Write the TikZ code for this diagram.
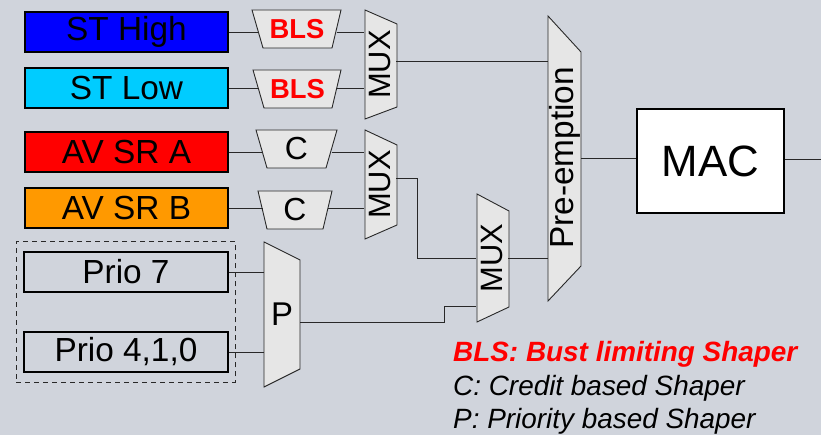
\documentclass[tikz,border=0pt]{standalone}
\usepackage{fontspec}
\usepackage{graphicx}
\setmainfont{Liberation Sans}
\usetikzlibrary{fit}

\definecolor{bggray}{RGB}{208,212,220}
\definecolor{stblue}{RGB}{0,0,255}
\definecolor{stcyan}{RGB}{0,204,255}
\definecolor{avred}{RGB}{255,0,0}
\definecolor{avorange}{RGB}{255,153,0}
\definecolor{shapergray}{RGB}{230,230,230}
\definecolor{linegray}{RGB}{40,40,40}

\tikzset{
  queue/.style={draw=black, line width=1.2bp, minimum width=203bp, minimum height=40bp,
    inner sep=0pt, font=\fontsize{33.5}{36}\selectfont},
  shaper/.style={draw=linegray, fill=shapergray, line width=0.9bp},
  port/.style={inner sep=0pt, outer sep=0pt},
  wire/.style={draw=linegray, line width=0.9bp},
  legend/.style={anchor=base west, inner sep=0pt, font=\fontsize{28}{30}\selectfont\itshape}
}

\begin{document}
\begin{tikzpicture}[x=1bp, y=-1bp]
    % Background
    \fill[bggray] (0,0) rectangle (821,435);
    \useasboundingbox (0,0) rectangle (821,435);

    % Traffic classes
    \node[queue, fill=stblue] (sthigh) at (126.5,32) {ST High};
    \node[queue, fill=stcyan] (stlow) at (126.5,88) {ST Low};
    \node[queue, fill=avred] (avsra) at (126.5,152) {AV SR A};
    \node[queue, fill=avorange] (avsrb) at (126.5,208) {AV SR B};
    \node[queue, minimum width=204bp] (prioseven) at (126,272) {Prio 7};
    \node[queue, minimum width=204bp] (priolow) at (126,352) {Prio 4,1,0};
    \node[draw=linegray, dash pattern=on 5bp off 4bp, line width=1bp, inner xsep=7bp,
      inner ysep=9.5bp, fit=(prioseven)(priolow)] (prioframe) {};

    % Shapers
    \draw[shaper] (252,10) -- (341,10) -- (332,48) -- (263,48) -- cycle;
    \draw[shaper] (253,70) -- (341,70) -- (332,108) -- (264,108) -- cycle;
    \draw[shaper] (256,130) -- (337,130) -- (326,168) -- (267,168) -- cycle;
    \draw[shaper] (258,191) -- (332,191) -- (323,229) -- (267,229) -- cycle;
    \draw[shaper] (264,242) -- (300,260) -- (300,369) -- (264,387) -- cycle;
    \node[port, minimum width=79bp, minimum height=38bp, text=red,
      font=\fontsize{27.5}{30}\selectfont\bfseries] (blsa) at (297,29) {BLS};
    \node[port, minimum width=78bp, minimum height=38bp, text=red,
      font=\fontsize{27.5}{30}\selectfont\bfseries] (blsb) at (297.5,89) {BLS};
    \node[port, minimum width=70bp, minimum height=38bp,
      font=\fontsize{32}{36}\selectfont] (credita) at (296.5,149) {C};
    \node[port, minimum width=65bp, minimum height=38bp,
      font=\fontsize{32}{36}\selectfont] (creditb) at (295,210) {C};
    \node[port, minimum width=36bp, minimum height=145bp,
      font=\fontsize{33}{36}\selectfont] (prio) at (282,314.5) {P};

    % Multiplexers
    \draw[shaper] (365,10) -- (397,24) -- (397,107) -- (365,119) -- cycle;
    \draw[shaper] (365,130) -- (397,145) -- (397,225) -- (365,239) -- cycle;
    \draw[shaper] (477,194) -- (509,211) -- (509,307) -- (477,322) -- cycle;
    \draw[shaper] (548,16) -- (581,52) -- (581,266) -- (548,301) -- cycle;
    \node[port, minimum width=32bp, minimum height=109bp,
      font=\fontsize{31}{32}\selectfont] (muxst) at (380,64.5) {\rotatebox{90}{MUX}};
    \node[port, minimum width=32bp, minimum height=109bp,
      font=\fontsize{31}{32}\selectfont] (muxav) at (380,184.5) {\rotatebox{90}{MUX}};
    \node[port, minimum width=32bp, minimum height=128bp,
      font=\fontsize{31}{32}\selectfont] (muxall) at (492,258) {\rotatebox{90}{MUX}};
    \node[port, minimum width=33bp, minimum height=285bp,
      font=\fontsize{33.5}{36}\selectfont] (preempt) at (564.5,158) {\rotatebox{90}{Pre-emption}};

    % MAC
    \node[draw=black, fill=white, line width=1.2bp, minimum width=147bp, minimum height=104bp,
      inner sep=0pt, font=\fontsize{44}{48}\selectfont] (mac) at (710.5,161) {MAC};
    \coordinate (macout) at (821,159);

    % Connections
    \draw[wire] (sthigh.east) -- (blsa.west |- sthigh.east)
      (blsa.east |- sthigh.east) -- (muxst.west |- sthigh.east);
    \draw[wire] (stlow.east) -- (blsb.west |- stlow.east)
      (blsb.east |- stlow.east) -- (muxst.west |- stlow.east);
    \draw[wire] (avsra.east) -- (credita.west |- avsra.east)
      (credita.east |- avsra.east) -- (muxav.west |- avsra.east);
    \draw[wire] (avsrb.east) -- (creditb.west |- avsrb.east)
      (creditb.east |- avsrb.east) -- (muxav.west |- avsrb.east);
    \draw[wire] (prioseven.east) -- (prio.west |- prioseven.east);
    \draw[wire] (priolow.east) -- (prio.west |- priolow.east);
    \draw[wire] ([yshift=3.5bp]muxst.east) -- ([yshift=3.5bp]muxst.east -| preempt.west);
    \draw[wire] ([yshift=6.5bp]muxav.east) -- ++(21,0) |- (muxall.west);
    \draw[wire] ([yshift=-8bp]prio.east) -- ++(144,0) |- ([yshift=-48.7bp]muxall.west);
    \draw[wire] (muxall.east) -- (muxall.east -| preempt.west);
    \draw[wire] (preempt.east) -- (preempt.east -| mac.west);
    \draw[wire] (mac.east |- macout) -- (macout);

    % Legend
    \node[legend, text=red, font=\fontsize{28}{30}\selectfont\bfseries\itshape] (legbls) at (453,362) {BLS: Bust limiting Shaper};
    \node[legend] (legc) at (453,395) {C: Credit based Shaper};
    \node[legend] (legp) at (453,428) {P: Priority based Shaper};
\end{tikzpicture}
\end{document}
